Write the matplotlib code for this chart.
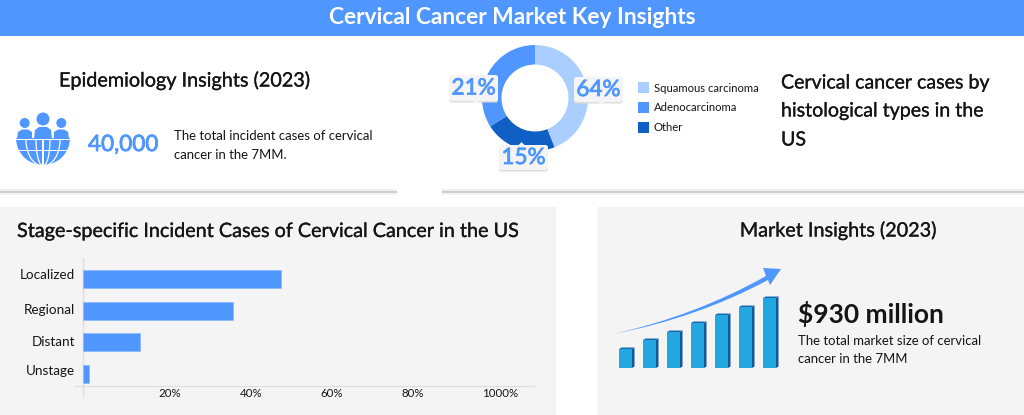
import matplotlib
matplotlib.use("Agg")
import matplotlib.pyplot as plt
import matplotlib.patheffects as pe
from matplotlib.patches import Rectangle, Circle, Ellipse, FancyBboxPatch, Polygon, PathPatch, Wedge
from matplotlib.path import Path
from matplotlib.transforms import ScaledTranslation

plt.rcParams['font.family'] = ['Lato', 'DejaVu Sans']

# donut
donut_drawn = [44, 22, 34]
donut_colors = ["#A9CEFF", "#0F5FC4", "#4F97FF"]
legend_names = ["Squamous carcinoma", "Adenocarcinoma", "Other"]
legend_colors = ["#A9CEFF", "#4F97FF", "#0F5FC4"]
callout_texts = ["64%", "21%", "15%"]

# stage bars
stages = ["Localized", "Regional", "Distant", "Unstage"]
stage_values = [49, 37, 14, 1.5]
stage_ticks = [20, 40, 60, 80, 100]
stage_tick_labels = ["20%", "40%", "60%", "80%", "1000%"]

# growth icon
icon_heights = [19, 28, 36, 45, 53, 61, 70]

BLUE = "#4F97FF"
PANEL = "#F4F4F4"
DARK = "#151515"
W, H = 1024, 415
DPI = 100


def px(size):
    return size * 72 / DPI


def box(x0, y0, x1, y1):
    return [x0 / W, 1 - y1 / H, (x1 - x0) / W, (y1 - y0) / H]


def thick(color, lw=0.2):
    # no medium weight of Lato here, so thicken the regular one a little
    return [pe.withStroke(linewidth=lw, foreground=color)]


fig = plt.figure(figsize=(W / DPI, H / DPI), dpi=DPI, facecolor="white")
bg = fig.add_axes([0, 0, 1, 1], zorder=0)
bg.set_xlim(0, W)
bg.set_ylim(H, 0)
bg.axis('off')

# header and panels
bg.add_patch(Rectangle((0, 0), W, 36, fc=BLUE, ec='none'))
bg.add_patch(Rectangle((0, 206.5), 556, 208.5, fc=PANEL, ec='none'))
bg.add_patch(Rectangle((597, 206.5), 427, 208.5, fc=PANEL, ec='none'))
bg.text(512, 17.5, "Cervical Cancer Market Key Insights", color="white", fontsize=px(22.8),
        fontweight='bold', ha='center', va='center')

# shadows under the top cards
for x0, x1 in [(0, 397), (442, W)]:
    bg.add_patch(Rectangle((x0, 189.5), x1 - x0, 2, fc="#EFEFEF", ec='none'))
    bg.add_patch(Rectangle((x0, 191.5), x1 - x0, 1.5, fc="#CFCFCF", ec='none'))
    bg.add_patch(Rectangle((x0, 193), x1 - x0, 1.5, fc="#F3F3F3", ec='none'))

bg.text(184, 80.5, "Epidemiology Insights (2023)", color=DARK, fontsize=px(19.8),
        ha='center', va='center', path_effects=thick(DARK))
bg.text(88, 145, "40,000", color=BLUE, fontsize=px(22.5), va='center', path_effects=thick(BLUE, 0.6))
bg.text(174, 136, "The total incident cases of cervical", color=DARK, fontsize=px(13.15), va='center')
bg.text(174, 155, "cancer in the 7MM.", color=DARK, fontsize=px(13.15), va='center')

# people + globe icon
bg.add_patch(Wedge((43, 138), 27, 0, 180, fc=BLUE, ec='none'))
bg.set_ylim(H, 0)
for cx, cy, r in [(43, 119, 6.5), (24.7, 123, 5), (61.3, 123, 5)]:
    bg.add_patch(Circle((cx, cy), r, fc=BLUE, ec='none'))
bg.add_patch(Polygon([(34, 139), (35, 130), (39, 127), (47, 127), (51, 130), (52, 139)], fc=BLUE, ec='none'))
bg.add_patch(Polygon([(17, 139), (18, 132), (22, 129.5), (28, 129.5), (32, 132), (32, 139)], fc=BLUE, ec='none'))
bg.add_patch(Polygon([(69, 139), (68, 132), (64, 129.5), (58, 129.5), (54, 132), (54, 139)], fc=BLUE, ec='none'))
bg.add_patch(Rectangle((15, 138.8), 57, 1.2, fc="white", ec='none'))
bg.add_patch(Rectangle((15, 149.5), 57, 1.2, fc="white", ec='none'))
bg.add_patch(Rectangle((42.4, 140), 1.2, 26, fc="white", ec='none'))
for half_w in [7, 17]:
    shell = Ellipse((43, 140), half_w * 2, 52, fc='none', ec="white", lw=0.9)
    bg.add_patch(shell)
    # the upper half of the ellipse would cut through the people
    shell.set_clip_path(Rectangle((10, 140), 70, 30, transform=bg.transData))

# donut
ax_pie = fig.add_axes(box(482, 45, 588, 151), zorder=1)
ax_pie.pie(donut_drawn, colors=donut_colors, startangle=90, counterclock=False, radius=1,
           wedgeprops=dict(width=1 - 33.5 / 53, linewidth=0))
ax_pie.set_xlim(-1, 1)
ax_pie.set_ylim(-1, 1)

# legend
for i, name in enumerate(legend_names):
    y = [88, 107, 127][i]
    bg.add_patch(Rectangle((638, y - 5.5), 11, 11, fc=legend_colors[i], ec='none'))
    bg.text(654, y, name, color=DARK, fontsize=px(11.2), va='center')

for i, line in enumerate(["Cervical cancer cases by", "histological types in the", "US"]):
    bg.text(781, [83, 111, 140][i], line, color=DARK, fontsize=px(19.6), va='center', path_effects=thick(DARK))

# callouts go above the donut
top = fig.add_axes([0, 0, 1, 1], zorder=3)
top.set_xlim(0, W)
top.set_ylim(H, 0)
top.axis('off')
top.patch.set_alpha(0)
callouts = [(574, 77, 623, 102, 1), (449, 75, 498, 101, 1), (499, 145, 548, 170, -1)]
for (x0, y0, x1, y1, d), label in zip(callouts, callout_texts):
    tip_x = (x0 + x1) / 2 + (3 if d == 1 else -2)
    edge = y1 if d == 1 else y0
    for off, col in [(1.5, "#DDDDDD"), (0, "#F4F4F4")]:
        top.add_patch(FancyBboxPatch((x0, y0 + off), x1 - x0, y1 - y0, boxstyle="round,pad=0,rounding_size=2.5",
                                     fc=col, ec='none'))
    top.add_patch(Polygon([(tip_x - 3, edge), (tip_x + 3, edge), (tip_x, edge + 3 * d)], fc="#F4F4F4", ec='none'))
    top.text((x0 + x1) / 2, (y0 + y1) / 2 + 0.5, label, color=BLUE, fontsize=px(22.5),
             ha='center', va='center', path_effects=thick(BLUE, 0.6))

# stage panel
bg.text(17, 231.5, "Stage-specific Incident Cases of Cervical Cancer in the US", color=DARK, fontsize=px(19.8),
        va='center', path_effects=thick(DARK))

ax = fig.add_axes(box(75, 258, 534, 386), zorder=1)
ax.patch.set_alpha(0)
ppu_x = 4.05
ppu_y = 31.67
ax.set_xlim(-8 / ppu_x, (534 - 83) / ppu_x)
ax.set_ylim((386 - 279) / ppu_y, (258 - 279) / ppu_y)
ax.barh(range(len(stages)), stage_values, height=0.57, color=BLUE, edgecolor="#8CBBFF", linewidth=0.6)
ax.set_yticks([-0.16, 0.95, 1.96, 2.87], stages)
ax.set_xticks(stage_ticks, stage_tick_labels)
ax.tick_params(axis='both', length=0)
ax.tick_params(axis='y', labelsize=px(13.5), labelcolor=DARK, pad=0)
ax.tick_params(axis='x', labelsize=px(11.5), labelcolor=DARK, pad=1.5)
for t in ax.get_xticklabels():
    t.set_ha('left')
    t.set_transform(t.get_transform() + ScaledTranslation(-5.5 / DPI, 0, fig.dpi_scale_trans))
for s in ['top', 'right', 'left']:
    ax.spines[s].set_visible(False)
ax.spines['bottom'].set_color("#DDDDDD")
ax.plot([0, 0], [-0.66, 3.7], color="#DDDDDD", lw=1, clip_on=False, zorder=0)

# market panel
bg.text(837.5, 230.5, "Market Insights (2023)", color=DARK, fontsize=px(19.8),
        ha='center', va='center', path_effects=thick(DARK))
bg.text(798, 314, "$930 million", color=DARK, fontsize=px(26.4), fontweight='bold', va='center')
bg.text(798, 341, "The total market size of cervical", color=DARK, fontsize=px(13.1), va='center')
bg.text(798, 359, "cancer in the 7MM", color=DARK, fontsize=px(13.1), va='center')

# growth icon, bars with fake 3d faces
base = 368
for i, h in enumerate(icon_heights):
    x = 619 + i * 24
    t = base - h
    bg.add_patch(Rectangle((x, t), 13, h, fc="#22A7E0", ec='none'))
    bg.add_patch(Polygon([(x + 13, t), (x + 15.5, t - 1.5), (x + 15.5, base - 1.5), (x + 13, base)], fc="#13589B", ec='none'))
    bg.add_patch(Polygon([(x, t), (x + 2.5, t - 1.5), (x + 15.5, t - 1.5), (x + 13, t)], fc="#1B69B0", ec='none'))

arrow = Path([(613, 334), (695, 316), (766, 276), (763, 268), (781, 269), (770, 285), (768, 280), (697, 318), (613, 334)],
             [Path.MOVETO, Path.CURVE3, Path.CURVE3, Path.LINETO, Path.LINETO, Path.LINETO, Path.LINETO, Path.CURVE3, Path.CURVE3])
bg.add_patch(PathPatch(arrow, fc=BLUE, ec='none'))

fig.savefig("out.png", dpi=DPI)
